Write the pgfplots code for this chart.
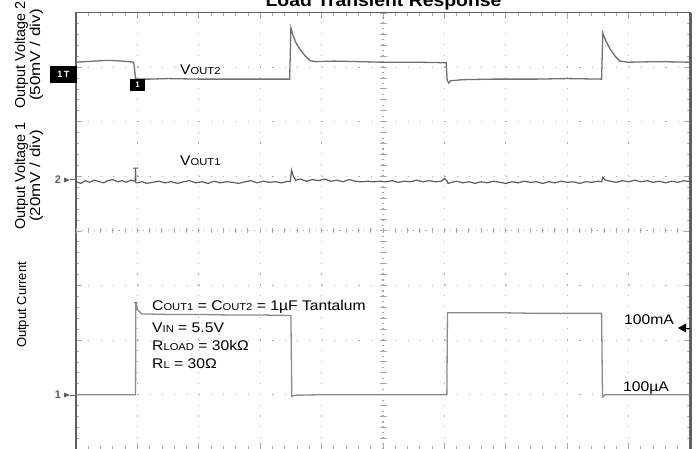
\documentclass[border=0pt]{standalone}
\usepackage{fontspec}
\setmainfont{Liberation Sans}
\usepackage{graphicx}
\usepackage{pgfplots}
\pgfplotsset{compat=1.18}
\newcommand{\sm}[1]{{\fontsize{10}{10}\selectfont #1}}
\newcommand{\hx}[1]{\scalebox{1.12}[1]{#1}}
\definecolor{trA}{HTML}{707070}
\definecolor{trB}{HTML}{5E5E5E}
\definecolor{trC}{HTML}{8A8A8A}
\definecolor{gridc}{HTML}{A8A8A8}
\definecolor{frame}{HTML}{606060}
\begin{document}
\begin{tikzpicture}[x=1pt,y=1pt]
\useasboundingbox (0,0) rectangle (699,448);
\begin{axis}[
  at={(76pt,-1.3pt)}, anchor=south west,
  scale only axis, width=614pt, height=436.8pt,
  xmin=0, xmax=10, ymin=0, ymax=8,
  xtick={0,...,10}, ytick={0,...,8},
  minor x tick num=4, minor y tick num=4,
  xticklabels={}, yticklabels={},
  tick align=inside,
  major tick length=6pt, minor tick length=3.5pt,
  tick style={gridc, line width=0.8pt},
  grid=major,
  major x grid style={gridc, line width=1.1pt, dash pattern=on 1.1pt off 9.82pt},
  major y grid style={gridc, line width=1.1pt, dash pattern=on 1.1pt off 11.18pt},
  axis line style={frame, line width=1.5pt},
  no marks, clip=false,
]
% centre graticule lines
\draw[gridc, line width=5pt, dash pattern=on 1pt off 11.28pt, dash phase=0.5pt] (axis cs:0,4) -- (axis cs:10,4);
\draw[gridc, line width=1.1pt, dash pattern=on 1.1pt off 5.04pt, dash phase=0.55pt] (axis cs:0,4) -- (axis cs:10,4);
\draw[gridc, line width=7pt, dash pattern=on 1pt off 9.92pt, dash phase=0.5pt] (axis cs:5,0) -- (axis cs:5,8);
\draw[gridc, line width=1.1pt, dash pattern=on 1.1pt off 4.36pt, dash phase=0.55pt] (axis cs:5,0) -- (axis cs:5,8);
\draw[frame, line width=3pt] (rel axis cs:1,0) -- (rel axis cs:1,1);
% VOUT2
\addplot[trA, line width=1.3pt] coordinates {
(0,7.09) (0.15,7.10) (0.3,7.11) (0.45,7.12) (0.6,7.12) (0.75,7.11) (0.85,7.10) (0.94,7.09)
(0.955,6.95) (0.97,6.78) (1.2,6.78) (1.5,6.79) (2,6.78) (2.5,6.78) (3,6.78) (3.48,6.78)
(3.50,7.72) (3.53,7.60) (3.58,7.45) (3.65,7.32) (3.73,7.21) (3.81,7.12) (3.9,7.10)
(4.2,7.11) (4.6,7.10) (5,7.09) (5.5,7.09) (6.03,7.08)
(6.045,6.76) (6.07,6.71) (6.1,6.75) (6.3,6.77) (6.8,6.78) (7.5,6.78) (8.0,6.79) (8.56,6.78)
(8.58,7.62) (8.63,7.48) (8.70,7.33) (8.78,7.20) (8.86,7.11) (9,7.09) (9.5,7.10) (10,7.09)
};
% VOUT1
\addplot[trB, line width=1.2pt] coordinates {
(0,4.90) (0.08,4.87) (0.15,4.92) (0.22,4.89) (0.3,4.93) (0.38,4.90) (0.45,4.88) (0.52,4.92)
(0.6,4.94) (0.68,4.90) (0.75,4.92) (0.82,4.89) (0.9,4.93) (0.965,4.91)
(0.97,5.15) (0.93,5.15) (1.01,5.15) (0.97,5.15) (0.975,4.88)
(1.0,4.88) (1.08,4.90) (1.15,4.87) (1.25,4.89) (1.35,4.91) (1.45,4.88) (1.55,4.90) (1.65,4.87)
(1.75,4.90) (1.85,4.92) (1.95,4.88) (2.05,4.90) (2.15,4.87) (2.25,4.91) (2.35,4.88) (2.45,4.90)
(2.55,4.89) (2.65,4.87) (2.75,4.90) (2.85,4.92) (2.95,4.88) (3.05,4.91) (3.15,4.89) (3.25,4.90)
(3.35,4.88) (3.45,4.91) (3.49,4.90) (3.51,5.11) (3.54,5.00) (3.58,4.93) (3.65,4.95) (3.75,4.91)
(3.85,4.94) (3.95,4.92) (4.05,4.95) (4.15,4.91) (4.25,4.93) (4.35,4.90) (4.45,4.94) (4.55,4.91)
(4.65,4.90) (4.75,4.91) (4.85,4.90) (4.95,4.91) (5.05,4.90) (5.15,4.92) (5.25,4.89) (5.35,4.91)
(5.45,4.90) (5.55,4.93) (5.65,4.90) (5.75,4.92) (5.85,4.90) (5.95,4.91) (6.0,4.96) (6.04,4.92)
(6.06,4.87) (6.12,4.89) (6.2,4.91) (6.3,4.88) (6.4,4.90) (6.5,4.87) (6.6,4.90) (6.7,4.88)
(6.8,4.91) (6.9,4.89) (7.0,4.87) (7.1,4.90) (7.2,4.88) (7.3,4.91) (7.4,4.89) (7.5,4.90)
(7.6,4.87) (7.7,4.90) (7.8,4.88) (7.9,4.91) (8.0,4.89) (8.1,4.90) (8.2,4.87) (8.3,4.90)
(8.4,4.89) (8.5,4.91) (8.56,4.90) (8.58,4.98) (8.62,4.93) (8.7,4.91) (8.8,4.89) (8.9,4.92)
(9.0,4.90) (9.1,4.93) (9.2,4.90) (9.3,4.92) (9.4,4.89) (9.5,4.91) (9.6,4.88) (9.7,4.91)
(9.8,4.89) (9.9,4.92) (10,4.90)
};
% Output current
\addplot[trC, line width=1.3pt] coordinates {
(0,1.0) (0.5,1.0) (0.97,1.0) (0.975,2.69) (0.945,2.69) (1.005,2.69) (0.975,2.69)
(1.0,2.56) (1.07,2.48) (1.5,2.47) (2,2.47) (2.5,2.46) (3.0,2.46) (3.5,2.45)
(3.515,0.97) (3.56,0.99) (4,1.0) (5,1.0) (6.04,1.0)
(6.05,2.50) (6.5,2.50) (7,2.50) (7.5,2.49) (8,2.49) (8.56,2.49)
(8.575,0.96) (8.62,1.0) (9,1.0) (10,1.0)
};
\end{axis}
% title
\node[anchor=base, font=\bfseries\fontsize{17.3}{18}\selectfont] at (383.5,448-7) {\hx{Load Transient Response}};
% vertical labels
\node[rotate=90, align=center, font=\fontsize{14.4}{15}\selectfont] at (29,448-55) {Output Voltage 2\\\scalebox{1.18}[1]{(50mV / div)}};
\node[rotate=90, align=center, font=\fontsize{14.4}{15}\selectfont] at (29,448-176) {Output Voltage 1\\\scalebox{1.18}[1]{(20mV / div)}};
\node[rotate=90, font=\fontsize{13}{14}\selectfont] at (23,448-305) {Output Current};
% trace labels
\begin{scope}[every node/.style={anchor=base west, inner sep=0pt, font=\fontsize{14}{14}\selectfont}]
\node at (180,448-75) {\hx{V\sm{OUT2}}};
\node at (180,448-165) {\hx{V\sm{OUT1}}};
\node at (152,448-310) {\hx{C\sm{OUT1} = C\sm{OUT2} = 1µF Tantalum}};
\node at (152,448-332) {\hx{V\sm{IN} = 5.5V}};
\node at (152,448-350) {\hx{R\sm{LOAD} = 30kΩ}};
\node at (152,448-368) {\hx{R\sm{L} = 30Ω}};
\node at (624,448-324) {\hx{100mA}};
\node at (623,448-391) {\hx{100µA}};
\end{scope}
% channel markers
\node[font=\bfseries\fontsize{11}{11}\selectfont, text=frame] at (58,448-180) {2};
\fill[frame] (64,448-177.5) -- (70,448-180) -- (64,448-182.5) -- cycle;
\draw[frame, line width=1pt] (70,448-180) -- (76,448-180);
\node[font=\bfseries\fontsize{11}{11}\selectfont, text=frame] at (58,448-395) {1};
\fill[frame] (64,448-392.5) -- (70,448-395) -- (64,448-397.5) -- cycle;
\draw[frame, line width=1pt] (70,448-395) -- (76,448-395);
\fill[black] (50,448-66) rectangle (77,448-83);
\node[text=white, font=\bfseries\fontsize{9}{9}\selectfont] at (63.5,448-74.5) {1\,T};
\fill[black] (130,448-79) rectangle (145,448-91);
\node[text=white, font=\bfseries\fontsize{8}{8}\selectfont] at (137.5,448-85) {1};
\fill[black] (678,448-328) -- (686,448-323.5) -- (686,448-332.5) -- cycle;
\draw[black, line width=1pt] (686,448-328) -- (690,448-328);
\end{tikzpicture}
\end{document}
